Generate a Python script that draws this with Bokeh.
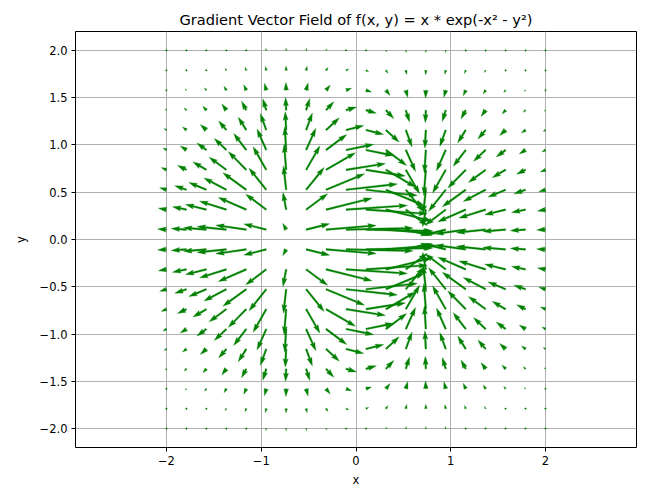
import math
from bokeh.plotting import figure
from bokeh.models import Range1d, FixedTicker
from bokeh.embed import file_html
from bokeh.resources import INLINE

# ---------------- data ----------------
TITLE = "Gradient Vector Field of f(x, y) = x * exp(-x² - y²)"
X_LABEL = "x"
Y_LABEL = "y"

# sample grid positions (20 x 20, tails of the arrows)
grid_x = [-2.0, -1.789, -1.579, -1.368, -1.158, -0.947, -0.737, -0.526, -0.316, -0.105,
          0.105, 0.316, 0.526, 0.737, 0.947, 1.158, 1.368, 1.579, 1.789, 2.0]
grid_y = [-2.0, -1.789, -1.579, -1.368, -1.158, -0.947, -0.737, -0.526, -0.316, -0.105,
          0.105, 0.316, 0.526, 0.737, 0.947, 1.158, 1.368, 1.579, 1.789, 2.0]

x_ticks = [-2, -1, 0, 1, 2]
x_tick_labels = ["\u22122", "\u22121", "0", "1", "2"]
y_ticks = [-2.0, -1.5, -1.0, -0.5, 0.0, 0.5, 1.0, 1.5, 2.0]
y_tick_labels = ["\u22122.0", "\u22121.5", "\u22121.0", "\u22120.5", "0.0", "0.5", "1.0", "1.5", "2.0"]


def gradient(x, y):
    # gradient of the function named in the title, f(x, y) = x * exp(-x^2 - y^2)
    e = math.exp(-x * x - y * y)
    return (1 - 2 * x * x) * e, -2 * x * y * e


X, Y, U, V = [], [], [], []
for yy in grid_y:
    for xx in grid_x:
        u, v = gradient(xx, yy)
        X.append(xx); Y.append(yy); U.append(u); V.append(v)

# ---------------- layout ----------------
FW, FH = 561, 416
X_LO, X_HI = -2.96, 2.96
Y_LO, Y_HI = -2.2, 2.2
dx_per_px = (X_HI - X_LO) / FW
dy_per_px = (Y_HI - Y_LO) / FH

# quiver-like auto scaling: mean arrow = 1/36 of the axes width
mags = [math.hypot(u, v) for u, v in zip(U, V)]
amean = sum(mags) / len(mags)
W = 0.003 * FW                    # shaft width in px
px_per_mag = FW / (36.0 * amean)  # arrow length in px per gradient unit

HL, HAL, HW, MINSH, MINLEN = 5.0, 4.5, 3.0, 5.0, 1.0
ii = [0, 1, 2, 3, 2, 1, 0, 0]
sgn = [1, 1, 1, -1, -1, -1, -1, 1]

patch_xs, patch_ys = [], []
for x0, y0, u, v, a in zip(X, Y, U, V, mags):
    L = a * px_per_mag / W  # in shaft-width units
    th = math.atan2(v, u)
    if L < MINLEN:
        pts = [(math.cos(k * math.pi / 3) * 0.5, math.sin(k * math.pi / 3) * 0.5) for k in range(8)]
    elif L < MINSH:
        s = L / MINSH
        bx = [0, MINSH - HAL, MINSH - HL, MINSH]
        by = [0.5, 0.5, 0.5 * HW, 0]
        pts = [(bx[i] * s, by[i] * sg * s) for i, sg in zip(ii, sgn)]
    else:
        bx = [0, L - HAL, L - HL, L]
        by = [0.5, 0.5, 0.5 * HW, 0]
        pts = [(bx[i], by[i] * sg) for i, sg in zip(ii, sgn)]
    c, s_ = math.cos(th), math.sin(th)
    px = [x0 + (px_ * c - py_ * s_) * W * dx_per_px for px_, py_ in pts]
    py = [y0 + (px_ * s_ + py_ * c) * W * dy_per_px for px_, py_ in pts]
    patch_xs.append(px)
    patch_ys.append(py)

FONT = "DejaVu Sans"

p = figure(
    frame_width=FW, frame_height=FH,
    x_range=Range1d(X_LO, X_HI), y_range=Range1d(Y_LO, Y_HI),
    output_backend="svg", toolbar_location=None,
    min_border_left=75, min_border_right=10, min_border_top=31, min_border_bottom=41,
    background_fill_color="white", border_fill_color="white",
)
p.title.text = TITLE
p.title.align = "center"
p.title.text_font = FONT
p.title.text_font_size = "14.6px"
p.title.text_font_style = "normal"
p.title.text_color = "black"
p.title.standoff = 7

p.outline_line_color = "black"
p.outline_line_width = 1
p.outline_line_alpha = 1

p.patches(patch_xs, patch_ys, fill_color="#008000", line_color="#008000", line_width=0.3)

for ax, ticks, labels, lab in ((p.xaxis[0], x_ticks, x_tick_labels, X_LABEL),
                               (p.yaxis[0], y_ticks, y_tick_labels, Y_LABEL)):
    ax.ticker = FixedTicker(ticks=ticks)
    ax.major_label_overrides = {t: l for t, l in zip(ticks, labels)}
    ax.axis_label = lab
    ax.axis_label_text_font = FONT
    ax.axis_label_text_font_size = "11.5px"
    ax.axis_label_text_font_style = "normal"
    ax.axis_label_text_color = "black"
    ax.major_label_text_font = FONT
    ax.major_label_text_font_size = "11.5px"
    ax.major_label_text_color = "black"
    ax.major_tick_out = 4
    ax.major_tick_in = 0
    ax.major_tick_line_color = "black"
    ax.minor_tick_line_color = None
    ax.axis_line_color = None
    ax.major_label_standoff = 4

p.xaxis[0].axis_label_standoff = 5
p.yaxis[0].axis_label_standoff = 9

p.xgrid.ticker = FixedTicker(ticks=x_ticks)
p.ygrid.ticker = FixedTicker(ticks=y_ticks)
for g in (p.xgrid[0], p.ygrid[0]):
    g.grid_line_color = "#b0b0b0"
    g.grid_line_width = 1

open("out.html", "w").write(file_html(p, INLINE))
